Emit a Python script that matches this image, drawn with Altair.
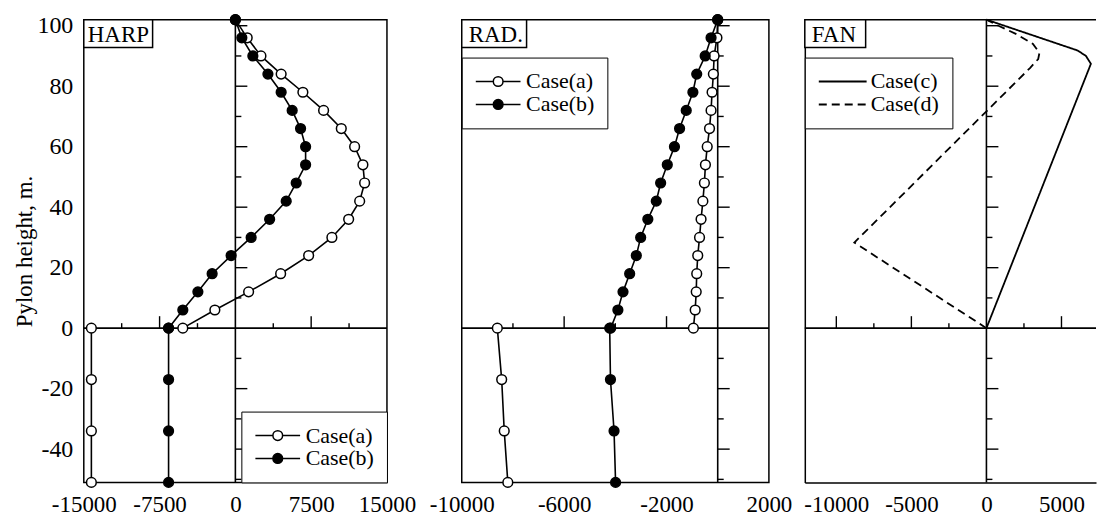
import altair as alt
import pandas as pd

FONT = "Liberation Serif"

# ---------------- data ----------------
HEIGHTS_ABOVE = [0, 6, 12, 18, 24, 30, 36, 42, 48, 54, 60, 66, 72, 78, 84, 90, 96, 102]
HEIGHTS_BELOW = [0, -17, -34, -51]

HARP_A_ABOVE = [-5200, -2030, 1310, 4480, 7250, 9550, 11210, 12300, 12790, 12620,
                11800, 10480, 8730, 6680, 4530, 2530, 1170, 0]
HARP_B_ABOVE = [-6610, -5200, -3710, -2300, -420, 1560, 3390, 5030, 6020, 6950,
                6950, 6450, 5620, 4530, 3220, 1730, 640, 0]
HARP_A_BELOW = [-14250, -14250, -14250, -14250]
HARP_B_BELOW = [-6610, -6610, -6610, -6610]

RAD_A_ABOVE = [-950, -880, -840, -820, -780, -710, -650, -580, -520, -480,
               -410, -320, -260, -220, -170, -140, -30, 0]
RAD_B_ABOVE = [-4180, -3900, -3700, -3440, -3180, -3010, -2730, -2400, -2230, -1970,
               -1690, -1490, -1230, -970, -820, -490, -260, 0]
RAD_A_BELOW = [-8610, -8440, -8340, -8200]
RAD_B_BELOW = [-4220, -4190, -4050, -3990]

FAN_C_H = [0, 87.4, 90.0, 91.8, 102]
FAN_C_X = [0, 6960, 6630, 6080, 0]
FAN_D_H = [0, 28.3, 86.0, 89.0, 91.0, 94.0, 97.2, 100, 102]
FAN_D_X = [0, -8800, 2900, 3450, 3530, 3100, 2000, 800, 0]

Y_LABELS = [-40, -20, 0, 20, 40, 60, 80, 100]
Y_TICKS_MAJOR = [-40, -20, 20, 40, 60, 80, 100]
Y_TICKS_MINOR = [-50, -30, -10, 10, 30, 50, 70, 90]

HARP_X_LABELS = [-15000, -7500, 0, 7500, 15000]
HARP_XT_MAJOR = [-7500, 7500]
HARP_XT_MINOR = [-11250, -3750, 3750, 11250]

RAD_X_LABELS = [-10000, -6000, -2000, 2000]
RAD_XT_MAJOR = [-6000, -2000]
RAD_XT_MINOR = [-8000, -4000]

FAN_X_LABELS = [-10000, -5000, 0, 5000]
FAN_XT_MAJOR = [-10000, -5000, 5000]
FAN_XT_MINOR = [-7500, -2500, 2500]

CASES_AB = ["Case(a)", "Case(b)"]
CASES_CD = ["Case(c)", "Case(d)"]

# ---------------- layout / style ----------------
H = 464
W_HARP, W_RAD, W_FAN = 304, 308, 292
Y_DOMAIN = [-51, 102]
LW = 1.6
CIRCLE_PATH = "M-4.6,0L-1,0M1,0L4.6,0M-1,0A1,1,0,1,1,1,0A1,1,0,1,1,-1,0Z"
LINE_PATH = "M-5,0L5,0"
PLAIN = "'' + datum.value"   # hyphen-minus like the original


def build_df(parts):
    rows = []
    for case, seg, xs, hs in parts:
        for i, (xv, hv) in enumerate(zip(xs, hs)):
            rows.append({"x": xv, "h": hv, "case": case, "seg": seg, "idx": i})
    return pd.DataFrame(rows)


def make_panel(data_layers_fn, xdomain, x_labels, xt_major, xt_minor, label, box_w,
               text_dx, y_axis, x_domain_line=False, top_line=False):
    xs = alt.Scale(domain=xdomain, nice=False, zero=False)
    ys = alt.Scale(domain=Y_DOMAIN, nice=False, zero=False)
    x_axis = alt.Axis(values=x_labels, labelExpr=PLAIN, title=None, domain=x_domain_line)

    def X(f):
        return alt.X(f, scale=xs, axis=x_axis)

    def Y(f):
        return alt.Y(f, scale=ys, axis=y_axis)

    def tdf(vals):
        return pd.DataFrame({"v": vals, "z": [0] * len(vals)})

    zero = pd.DataFrame({"z": [0]})
    one = pd.DataFrame({"label": [label]})

    lines, points = data_layers_fn(X, Y)

    zero_v = alt.Chart(zero).mark_rule(color="black", strokeWidth=LW).encode(x=X("z:Q"))
    zero_h = alt.Chart(zero).mark_rule(color="black", strokeWidth=LW).encode(y=Y("z:Q"))
    xt_maj = alt.Chart(tdf(xt_major)).mark_tick(
        orient="vertical", size=12, thickness=1.4, yOffset=-6, color="black", opacity=1
    ).encode(x=X("v:Q"), y=Y("z:Q"))
    xt_min = alt.Chart(tdf(xt_minor)).mark_tick(
        orient="vertical", size=5, thickness=1.4, yOffset=-2.5, color="black", opacity=1
    ).encode(x=X("v:Q"), y=Y("z:Q"))
    yt_maj = alt.Chart(tdf(Y_TICKS_MAJOR)).mark_tick(
        orient="horizontal", size=12, thickness=1.4, xOffset=6, color="black", opacity=1
    ).encode(y=Y("v:Q"), x=X("z:Q"))
    yt_min = alt.Chart(tdf(Y_TICKS_MINOR)).mark_tick(
        orient="horizontal", size=6, thickness=1.4, xOffset=3, color="black", opacity=1
    ).encode(y=Y("v:Q"), x=X("z:Q"))
    box = alt.Chart(one).mark_rect(fill="white", stroke="black", strokeWidth=1.5).encode(
        x=alt.value(0), x2=alt.value(box_w), y=alt.value(0), y2=alt.value(28))
    txt = alt.Chart(one).mark_text(align="left", baseline="middle", font=FONT,
                                   fontSize=23, color="black").encode(
        x=alt.value(text_dx), y=alt.value(15), text="label:N")
    layers = [lines, zero_v, zero_h, xt_maj, xt_min, yt_maj, yt_min]
    if top_line:
        top = pd.DataFrame({"top": [Y_DOMAIN[1]]})
        layers.append(alt.Chart(top).mark_rule(color="black", strokeWidth=1.5).encode(
            y=Y("top:Q")))
    if points is not None:
        layers.append(points)
    layers += [box, txt]
    return alt.layer(*layers)


def legend(symbol, ssize, swidth, soff, **kw):
    return alt.Legend(title=None, symbolType=symbol, symbolSize=ssize,
                      symbolStrokeColor="black", symbolStrokeWidth=swidth,
                      symbolOffset=soff, labelOffset=17, labelFont=FONT,
                      labelFontSize=22, labelColor="black", strokeColor="black",
                      fillColor="white", padding=13, rowPadding=1, **kw)


def ab_layers(df, leg):
    def fn(X, Y):
        lines = alt.Chart(df).mark_line(color="black", strokeWidth=LW).encode(
            x=X("x:Q"), y=Y("h:Q"), detail="seg:N", order="idx:Q")
        pts = alt.Chart(df).mark_point(shape="circle", filled=True, size=95,
                                       stroke="black", strokeWidth=1.5, opacity=1).encode(
            x=X("x:Q"), y=Y("h:Q"),
            fill=alt.Fill("case:N", scale=alt.Scale(domain=CASES_AB, range=["white", "black"]),
                          legend=leg))
        return lines, pts
    return fn


# ---------------- HARP ----------------
harp_df = build_df([
    ("Case(a)", "a1", HARP_A_ABOVE, HEIGHTS_ABOVE),
    ("Case(a)", "a2", HARP_A_BELOW, HEIGHTS_BELOW),
    ("Case(b)", "b1", HARP_B_ABOVE, HEIGHTS_ABOVE),
    ("Case(b)", "b2", HARP_B_BELOW, HEIGHTS_BELOW),
])
harp = make_panel(
    ab_layers(harp_df, legend(CIRCLE_PATH, 95, 1.5, 12.5, orient="bottom-right", offset=0)),
    [-15000, 15000], HARP_X_LABELS, HARP_XT_MAJOR, HARP_XT_MINOR, "HARP", 69, 4,
    alt.Axis(values=Y_LABELS, labelExpr=PLAIN, title="Pylon height, m.")
).properties(width=W_HARP, height=H)

# ---------------- RAD ----------------
rad_df = build_df([
    ("Case(a)", "a1", RAD_A_ABOVE, HEIGHTS_ABOVE),
    ("Case(a)", "a2", RAD_A_BELOW, HEIGHTS_BELOW),
    ("Case(b)", "b1", RAD_B_ABOVE, HEIGHTS_ABOVE),
    ("Case(b)", "b2", RAD_B_BELOW, HEIGHTS_BELOW),
])
rad = make_panel(
    ab_layers(rad_df, legend(CIRCLE_PATH, 95, 1.5, 12.5, orient="none", legendX=0, legendY=38)),
    [-10000, 2000], RAD_X_LABELS, RAD_XT_MAJOR, RAD_XT_MINOR, "RAD.", 65, 7,
    alt.Axis(values=Y_LABELS, labels=False, title=None)
).properties(width=W_RAD, height=H)

# ---------------- FAN ----------------
fan_df = build_df([
    ("Case(c)", "c", FAN_C_X, FAN_C_H),
    ("Case(d)", "d", FAN_D_X, FAN_D_H),
])


def fan_fn(X, Y):
    lines = alt.Chart(fan_df).mark_line(color="black", strokeWidth=1.8).encode(
        x=X("x:Q"), y=Y("h:Q"),
        strokeDash=alt.StrokeDash(
            "case:N", scale=alt.Scale(domain=CASES_CD, range=[[1, 0], [8, 5]]),
            legend=legend(LINE_PATH, 92, 2, 14, orient="none", legendX=0, legendY=38)),
        detail="seg:N", order="idx:Q")
    return lines, None


fan = make_panel(
    fan_fn, [-12100, 7300], FAN_X_LABELS, FAN_XT_MAJOR, FAN_XT_MINOR, "FAN", 61, 7,
    alt.Axis(values=Y_LABELS, labels=False, title=None, domain=True),
    x_domain_line=True, top_line=True
).properties(width=W_FAN, height=H, view=alt.ViewBackground(stroke="transparent"))

# ---------------- spacer ----------------
spacer = alt.Chart(pd.DataFrame({"v": [0]})).mark_point(opacity=0).encode(
    x=alt.value(0), y=alt.value(0)
).properties(width=3, height=H, view=alt.ViewBackground(stroke="transparent"))

chart = alt.hconcat(harp, spacer, rad, fan, spacing=36, bounds="flush").resolve_scale(
    fill="independent", strokeDash="independent"
).resolve_legend(
    fill="independent", strokeDash="independent"
).properties(
    padding={"left": 5, "top": 2, "right": 0, "bottom": 0}
).configure_view(stroke="black", strokeWidth=1.5).configure_axis(
    labelFont=FONT, labelFontSize=24, labelColor="black", titleFont=FONT,
    titleFontSize=23, titleFontWeight="normal", titleColor="black", grid=False,
    ticks=False, domain=False, domainColor="black", domainWidth=1.5,
    labelFlush=False, labelOverlap=False, labelPadding=11
).configure_axisX(labelFontSize=23).configure_axisY(labelPadding=11, titlePadding=0)

chart.save("out.html", embed_options={"renderer": "svg", "actions": False})
